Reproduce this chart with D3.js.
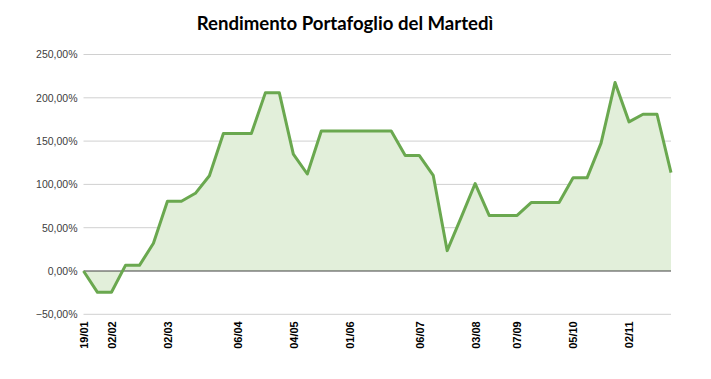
<!DOCTYPE html>
<html>
<head>
<meta charset="utf-8">
<script src="https://cdn.jsdelivr.net/npm/d3@7"></script>
<style>
  html, body { margin: 0; padding: 0; background: #fff; }
  svg { display: block; }
</style>
</head>
<body>
<svg id="chart" width="711" height="379"></svg>
<script>
// ---- data ----
const title = "Rendimento Portafoglio del Martedì";
const dates = [
  "19/01","26/01","02/02","09/02","16/02","23/02","02/03","09/03","16/03","23/03",
  "30/03","06/04","13/04","20/04","27/04","04/05","11/05","18/05","25/05","01/06",
  "08/06","15/06","22/06","29/06","06/07","13/07","20/07","27/07","03/08","24/08",
  "31/08","07/09","14/09","21/09","28/09","05/10","12/10","19/10","26/10","02/11",
  "09/11","16/11","23/11"
];
const returns = [
  0, -24.6, -24.6, 6.5, 6.5, 32, 80.5, 80.5, 89.7, 110,
  158.7, 158.7, 158.7, 205.7, 205.7, 135, 112, 161.6, 161.6, 161.6,
  161.6, 161.6, 161.6, 133.5, 133.5, 110.5, 23.5, 62, 101, 64.2,
  64.2, 64.2, 79, 79, 79, 107.6, 107.6, 147.7, 217.6, 172.2,
  181, 181, 113.5
];
const xTickLabels = ["19/01","02/02","02/03","06/04","04/05","01/06","06/07","03/08","07/09","05/10","02/11"];
const yTicks = [-50, 0, 50, 100, 150, 200, 250];

// ---- layout ----
const svg = d3.select("#chart");
const mLeft = 83.5, mRight = 671, mTop = 54.5, mBottom = 314.3;

const x = d3.scalePoint().domain(dates).range([mLeft, mRight]).padding(0);
const y = d3.scaleLinear().domain([-50, 250]).range([mBottom, mTop]);

const fmt = v => d3.format(".2f")(v).replace(".", ",") + "%";

// title
svg.append("text")
  .attr("x", 345).attr("y", 30)
  .attr("text-anchor", "middle")
  .attr("font-family", "Lato, 'Open Sans', sans-serif")
  .attr("font-weight", "bold")
  .attr("font-size", 18.6)
  .attr("fill", "#000")
  .text(title);

// gridlines
svg.append("g").selectAll("line").data(yTicks.filter(d => d !== 0)).join("line")
  .attr("x1", mLeft).attr("x2", mRight)
  .attr("y1", d => y(d)).attr("y2", d => y(d))
  .attr("stroke", "#d0d0d0").attr("stroke-width", 1);

// y axis labels
const yAxis = d3.axisLeft(y).tickValues(yTicks).tickFormat(fmt).tickSize(0).tickPadding(6);
const gy = svg.append("g").attr("transform", `translate(${mLeft},0)`).call(yAxis);
gy.select(".domain").remove();
gy.selectAll("text")
  .attr("font-family", "'Liberation Sans', Arial, sans-serif")
  .attr("font-size", 10.5)
  .attr("fill", "#404040");

// area
const area = d3.area()
  .x(d => x(d.date))
  .y0(y(0))
  .y1(d => y(d.v));
const line = d3.line()
  .x(d => x(d.date))
  .y(d => y(d.v));
const pts = dates.map((date, i) => ({ date, v: returns[i] }));

svg.append("path").datum(pts)
  .attr("d", area)
  .attr("fill", "#e2efda");

// zero axis line
svg.append("line")
  .attr("x1", mLeft).attr("x2", mRight)
  .attr("y1", y(0)).attr("y2", y(0))
  .attr("stroke", "#404040").attr("stroke-width", 1);

svg.append("path").datum(pts)
  .attr("d", line)
  .attr("fill", "none")
  .attr("stroke", "#6aa84f")
  .attr("stroke-width", 3)
  .attr("stroke-linejoin", "round");

// x axis labels (rotated)
const xAxis = d3.axisBottom(x).tickValues(xTickLabels).tickSize(0).tickPadding(0);
const gx = svg.append("g").attr("transform", `translate(0,${mBottom})`).call(xAxis);
gx.select(".domain").remove();
gx.selectAll("text")
  .attr("font-family", "'Liberation Sans', Arial, sans-serif")
  .attr("font-weight", "bold")
  .attr("font-size", 11)
  .attr("fill", "#000")
  .attr("text-anchor", "end")
  .attr("dy", "0.35em")
  .attr("transform", "translate(0,7) rotate(-90)")
  .attr("x", 0).attr("y", 0);
</script>
</body>
</html>
